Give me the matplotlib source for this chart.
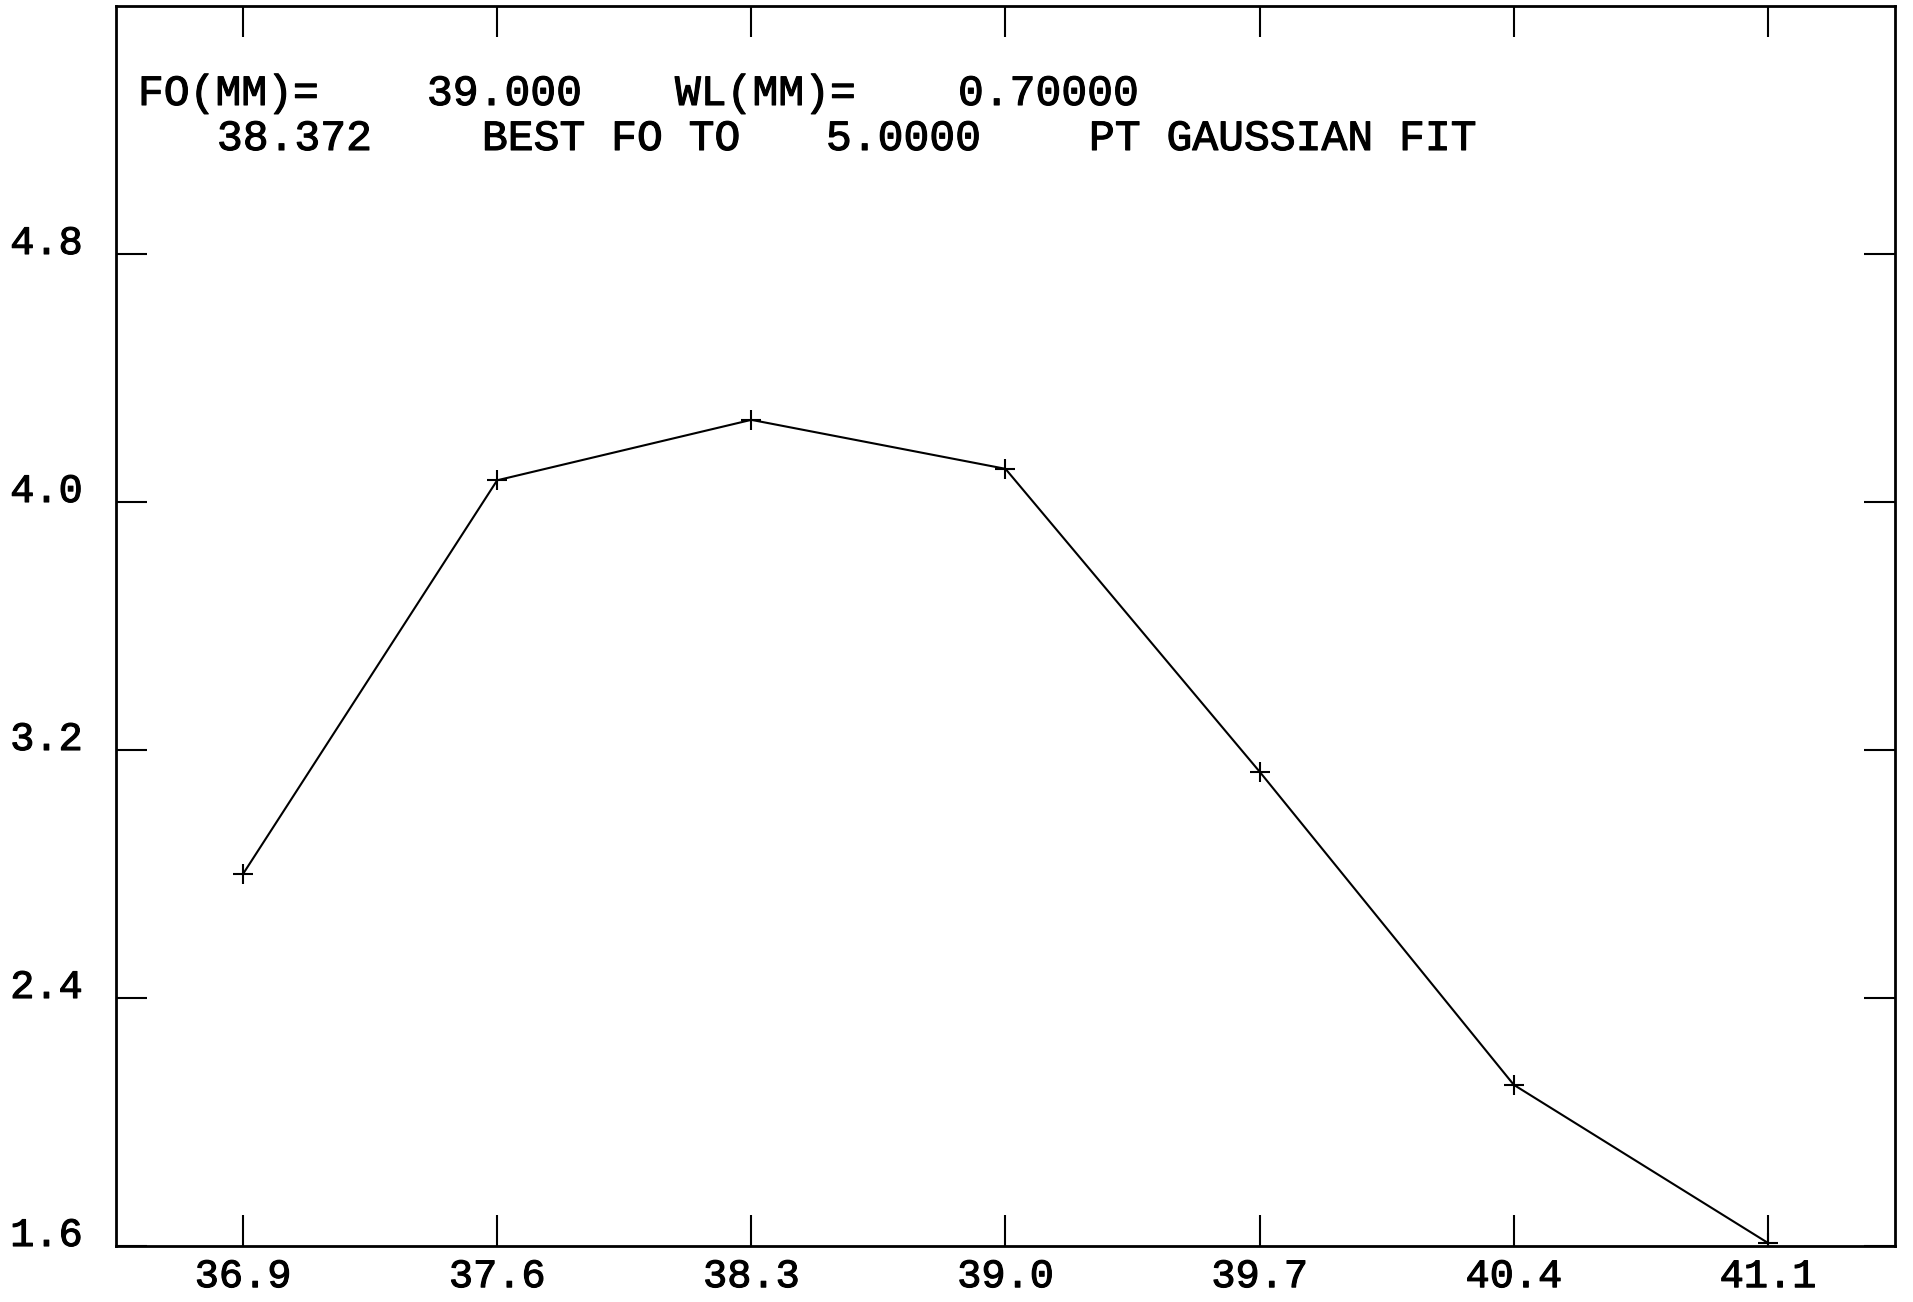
import matplotlib
matplotlib.use("Agg")
import matplotlib.pyplot as plt
import matplotlib.patheffects as pe

# focus scan: position (mm) vs. signal
focus = [36.9, 37.6, 38.3, 39.0, 39.7, 40.4, 41.1]
signal = [2.80, 4.07, 4.265, 4.107, 3.13, 2.12, 1.61]
xticks = [36.9, 37.6, 38.3, 39.0, 39.7, 40.4, 41.1]
yticks = [1.6, 2.4, 3.2, 4.0, 4.8]

FONT = "Liberation Mono"
THICK = [pe.withStroke(linewidth=0.8, foreground="black")]

fig = plt.figure(figsize=(19.13, 13.02), dpi=100)
ax = fig.add_axes([0.0606, 0.043, 0.930, 0.9524])

ax.plot(focus, signal, color="black", lw=1.5, marker="+", ms=15, mew=1.5)

ax.set_xlim(36.55, 41.45)
ax.set_ylim(1.6, 5.6)
ax.set_xticks(xticks)
ax.set_xticklabels([f"{v:.1f}" for v in xticks])
ax.set_yticks(yticks)
ax.set_yticklabels([f"{v:.1f}" for v in yticks])
plt.setp(ax.get_yticklabels(), va="baseline")

ax.tick_params(direction="in", length=22, width=1.5, top=True, right=True,
               labelsize=29, colors="black")
ax.tick_params(axis="x", pad=8)
ax.tick_params(axis="y", pad=24)
for lbl in ax.get_xticklabels() + ax.get_yticklabels():
    lbl.set_family(FONT)
    lbl.set_path_effects(THICK)
for s in ax.spines.values():
    s.set_linewidth(2)

# header lines from the plotter output
kw = dict(transform=ax.transAxes, family=FONT, fontsize=31, va="center",
          path_effects=THICK)
def hx(px):
    return (px - 116) / 1779
def hy(py):
    return (1246 - py) / 1240
ax.text(hx(138), hy(94), "FO(MM)=", **kw)
ax.text(hx(427), hy(94), "39.000", **kw)
ax.text(hx(675), hy(94), "WL(MM)=", **kw)
ax.text(hx(958), hy(94), "0.70000", **kw)
ax.text(hx(217), hy(139), "38.372", **kw)
ax.text(hx(482), hy(139), "BEST FO TO", **kw)
ax.text(hx(826), hy(139), "5.0000", **kw)
ax.text(hx(1089), hy(139), "PT GAUSSIAN FIT", **kw)

fig.savefig("out.png", dpi=100)
